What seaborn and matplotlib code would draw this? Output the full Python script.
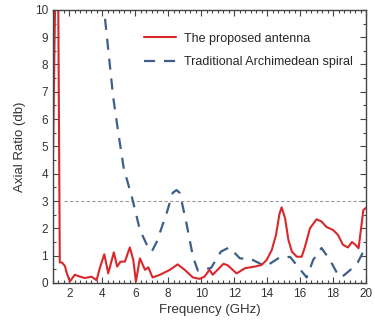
import numpy as np
import pandas as pd
import matplotlib
matplotlib.use("Agg")
import matplotlib.pyplot as plt
import seaborn as sns
from matplotlib.ticker import MultipleLocator, AutoMinorLocator

# Proposed antenna (red)
red_freq = [1.0, 1.27, 1.42, 1.55, 1.73, 1.85, 2.03, 2.33, 2.64, 2.94, 3.35, 3.65, 3.85,
            4.12, 4.36, 4.7, 4.9, 5.1, 5.37, 5.67, 5.88, 6.04, 6.28, 6.59, 6.79, 7.05,
            7.5, 8.1, 8.57, 9.0, 9.5, 9.9, 10.2, 10.5, 10.7, 11.35, 11.6, 12.15, 12.66,
            13.26, 13.67, 13.97, 14.28, 14.54, 14.74, 14.88, 15.09, 15.29, 15.5, 15.8,
            16.1, 16.3, 16.6, 17.0, 17.3, 17.6, 18.0, 18.3, 18.6, 18.9, 19.15, 19.35,
            19.55, 19.84, 20.0]
red_ar = [4.4, 16.0, 0.75, 0.75, 0.62, 0.35, 0.05, 0.3, 0.23, 0.18, 0.23, 0.1, 0.55,
          1.05, 0.35, 1.12, 0.6, 0.78, 0.78, 1.3, 0.84, 0.05, 0.9, 0.48, 0.57, 0.2,
          0.3, 0.48, 0.68, 0.48, 0.2, 0.15, 0.23, 0.48, 0.3, 0.7, 0.65, 0.35, 0.54,
          0.6, 0.66, 0.84, 1.2, 1.76, 2.5, 2.77, 2.37, 1.58, 1.15, 0.96,
          0.96, 1.33, 2.0, 2.33, 2.25, 2.05, 1.94, 1.76, 1.4, 1.3, 1.5, 1.4,
          1.27, 2.67, 2.75]

# Traditional Archimedean spiral (blue dashed)
blue_freq = [4.0, 4.16, 4.66, 4.97, 5.3, 5.84, 6.28, 6.7, 7.0, 7.3, 7.9, 8.27, 8.5,
             8.7, 9.1, 9.5, 9.8, 10.6, 11.2, 11.7, 12.35, 13.0, 13.6, 13.9, 14.8,
             15.4, 16.2, 16.4, 16.8, 17.3, 17.8, 18.3, 18.5, 19.0, 19.5, 19.8, 20.0]
blue_ar = [10.4, 9.7, 6.8, 5.5, 4.2, 3.04, 1.94, 1.4, 1.15, 1.5, 2.55, 3.3, 3.4,
           3.3, 2.2, 0.96, 0.45, 0.55, 1.15, 1.3, 0.9, 0.88, 0.7, 0.6, 0.95,
           0.95, 0.35, 0.2, 0.85, 1.28, 0.85, 0.3, 0.2, 0.45, 0.75, 1.1, 1.2]

ref_freq = [1.7, 20.0]
ref_ar = [3.0, 3.0]

x_ticks = [2, 4, 6, 8, 10, 12, 14, 16, 18, 20]
y_ticks = [0, 1, 2, 3, 4, 5, 6, 7, 8, 9, 10]

sns.set_style("ticks")
plt.rcParams['font.family'] = ['Liberation Sans', 'DejaVu Sans']

fig = plt.figure(figsize=(3.75, 3.29), dpi=100)
ax = fig.add_axes([0.141, 0.140, 0.835, 0.830])

red_df = pd.DataFrame({"f": red_freq, "ar": red_ar})
blue_df = pd.DataFrame({"f": blue_freq, "ar": blue_ar})
ref_df = pd.DataFrame({"f": ref_freq, "ar": ref_ar})

sns.lineplot(data=ref_df, x="f", y="ar", ax=ax, color="#9a9a9a", lw=0.8,
             linestyle=(0, (3, 2)), sort=False, estimator=None)
sns.lineplot(data=blue_df, x="f", y="ar", ax=ax, color="#3d5f88", lw=1.6,
             linestyle=(0, (5, 4)), sort=False, estimator=None,
             label="Traditional Archimedean spiral")
sns.lineplot(data=red_df, x="f", y="ar", ax=ax, color="#d8282c", lw=1.5,
             sort=False, estimator=None, label="The proposed antenna")

ax.set_xlim(1, 20)
ax.set_ylim(0, 10)
ax.set_xticks(x_ticks)
ax.set_yticks(y_ticks)
ax.xaxis.set_minor_locator(AutoMinorLocator(6))
ax.yaxis.set_minor_locator(AutoMinorLocator(2))
ax.tick_params(which='both', direction='in', top=True, right=True,
               colors='#444444', labelcolor='#333333', labelsize=8.5, width=0.8)
ax.tick_params(which='major', length=4)
ax.tick_params(which='minor', length=2)
for s in ax.spines.values():
    s.set_color('#444444')
    s.set_linewidth(1.0)

ax.set_xlabel("Frequency (GHz)", fontsize=9.5, color='#333333', labelpad=3)
ax.set_ylabel("Axial Ratio (db)", fontsize=9.5, color='#333333', labelpad=6)

handles, labels = ax.get_legend_handles_labels()
order = [labels.index("The proposed antenna"), labels.index("Traditional Archimedean spiral")]
ax.legend([handles[i] for i in order], [labels[i] for i in order],
          loc='upper left', bbox_to_anchor=(0.275, 0.935), frameon=False,
          fontsize=9, handlelength=2.6, labelspacing=0.95, handletextpad=0.6,
          borderaxespad=0)

fig.savefig("out.png", dpi=100)
